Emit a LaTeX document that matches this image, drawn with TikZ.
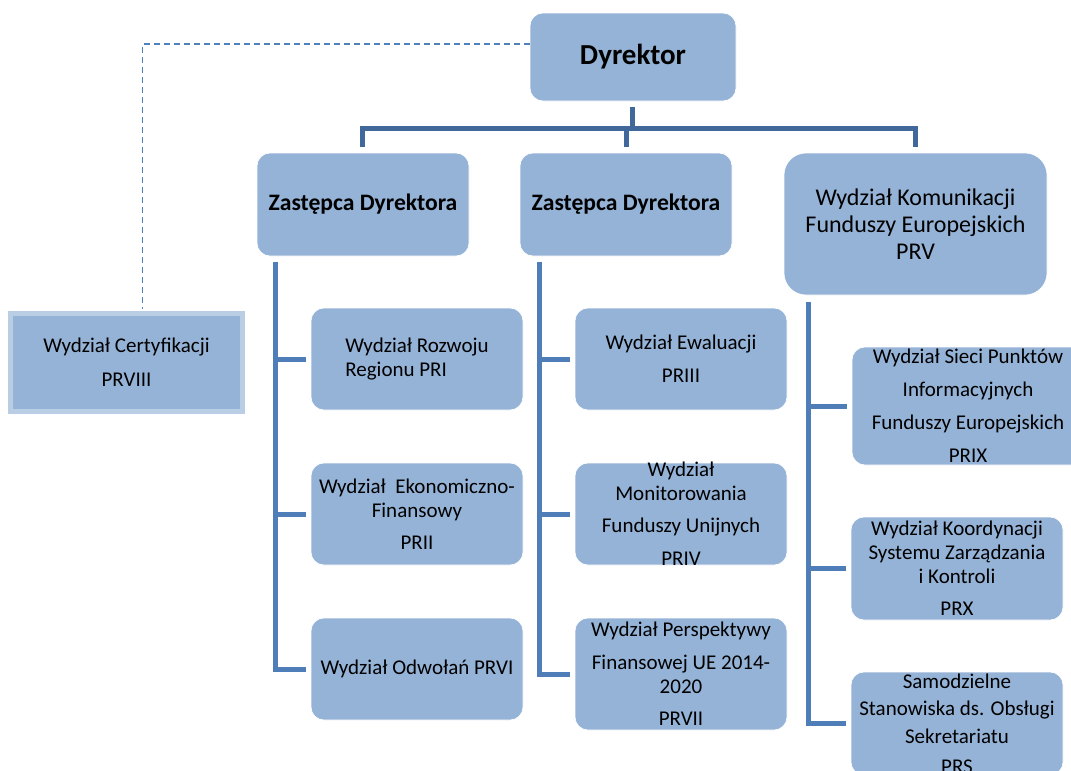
\documentclass[tikz,border=0pt]{standalone}
\usepackage{fontspec}
\setmainfont{Carlito}
\usetikzlibrary{calc}
\definecolor{boxfill}{HTML}{95B3D7}
\definecolor{connA}{HTML}{41689B}
\definecolor{connB}{HTML}{4F7DB8}
\definecolor{certborder}{HTML}{B9CDE5}
\definecolor{dashcol}{HTML}{4F81BD}
\begin{document}
\begin{tikzpicture}[x=1pt,y=-1pt,
  box/.style={fill=boxfill, draw=white, line width=0.6pt, rounded corners=13pt, inner sep=0pt, minimum width=212pt, minimum height=102pt},
  txt/.style={align=center, inner sep=0pt, font=\fontsize{21}{24}\selectfont, text=black},
  conn/.style={draw=connB, line width=5pt},
  topconn/.style={draw=connA, line width=5pt},
  dashconn/.style={draw=dashcol, line width=1.6pt, dash pattern=on 6pt off 4pt}]
\useasboundingbox (0,0) rectangle (1071,771);
\clip (0,0) rectangle (1071,771);
% boxes
\node[box, minimum width=206pt, minimum height=88pt] (dir) at (633,57) {};
\node[box, minimum height=103pt] (z1) at (363,204.5) {};
\node[box, minimum height=103pt] (z2) at (626,204.5) {};
\node[box, minimum width=263pt, minimum height=142pt, rounded corners=22pt] (kom) at (915.5,224) {};
\node[fill=boxfill, draw=certborder, line width=5pt, minimum width=232pt, minimum height=98pt, inner sep=0pt] (cert) at (126.5,362.5) {};
\node[box] (b11) at (417,359) {};
\node[box] (b12) at (417,514) {};
\node[box] (b13) at (417,669) {};
\node[box] (b21) at (681,359) {};
\node[box] (b22) at (681,514) {};
\node[box, minimum height=112pt] (b23) at (681,674) {};
\node[box, minimum width=232pt, minimum height=118pt] (b31) at (968,406) {};
\node[box, minimum height=103pt] (b32) at (957,568.5) {};
\node[box, minimum height=103pt] (b33) at (957,723.5) {};
% texts
\node[txt, font=\bfseries\fontsize{29}{34}\selectfont] (tdir) at (dir) {Dyrektor};
\node[txt, font=\bfseries\fontsize{23.6}{28}\selectfont] (tz1) at (z1) {Zastępca Dyrektora};
\node[txt, font=\bfseries\fontsize{23.6}{28}\selectfont] (tz2) at (z2) {Zastępca Dyrektora};
\node[txt, font=\fontsize{24}{27}\selectfont] (tkom) at (kom) {Wydział Komunikacji\\Funduszy Europejskich\\PRV};
\node[txt] (tcert) at (cert) {Wydział Certyfikacji\\[10pt]PRVIII};
\node[txt, align=left] (t11) at (b11) {Wydział Rozwoju\\Regionu PRI};
\node[txt] (t12) at (b12) {Wydział\ \ Ekonomiczno-\\Finansowy\\[8pt]PRII};
\node[txt] (t13) at (b13) {Wydział Odwołań PRVI};
\node[txt] (t21) at (b21) {Wydział Ewaluacji\\[9pt]PRIII};
\node[txt] (t22) at (b22) {Wydział\\Monitorowania\\[8pt]Funduszy Unijnych\\[9pt]PRIV};
\node[txt] (t23) at (b23) {Wydział Perspektywy\\[9pt]Finansowej UE 2014-\\2020\\[8pt]PRVII};
\node[txt] (t31) at (b31) {Wydział Sieci Punktów\\[9pt]Informacyjnych\\[9pt]Funduszy Europejskich\\[9pt]PRIX};
\node[txt] (t32) at (b32) {Wydział Koordynacji\\Systemu Zarządzania\\i Kontroli\\[8pt]PRX};
\node[txt] (t33) at (b33) {Samodzielne\\[3pt]Stanowiska ds. Obsługi\\[4pt]Sekretariatu\\[6pt]PRS};
% top connectors
\coordinate (bar) at ($(dir.south)+(-1,27)$);
\draw[topconn] ($(dir.south)+(-1,6)$) -- (bar);
\draw[topconn] ($(z1.north)+(-1,-6)$) |- (bar) -| ($(kom.north)+(0,-6)$);
\draw[topconn] (z2.north |- bar) -- ($(z2.north)+(0,-6)$);
% trunks
\coordinate (t1) at ($(z1.south west)+(19,6)$);
\draw[conn] (t1) |- ($(b13.west)+(-5,0)$);
\draw[conn] (t1 |- b11.west) -- ($(b11.west)+(-5,0)$);
\draw[conn] (t1 |- b12.west) -- ($(b12.west)+(-5,0)$);
\coordinate (t2) at ($(z2.south west)+(20,6)$);
\draw[conn] (t2) |- ($(b23.west)+(-5,0)$);
\draw[conn] (t2 |- b21.west) -- ($(b21.west)+(-5,0)$);
\draw[conn] (t2 |- b22.west) -- ($(b22.west)+(-5,0)$);
\coordinate (t3) at ($(kom.south west)+(25,7)$);
\draw[conn] (t3) |- ($(b33.west)+(-5,0)$);
\draw[conn] (t3 |- b31.west) -- ($(b31.west)+(-5,0)$);
\draw[conn] (t3 |- b32.west) -- ($(b32.west)+(-5,0)$);
% dashed
\draw[dashconn] ($(dir.north west)+(0,31)$) -| ($(cert.north)+(16,-2.5)$);
\end{tikzpicture}
\end{document}
